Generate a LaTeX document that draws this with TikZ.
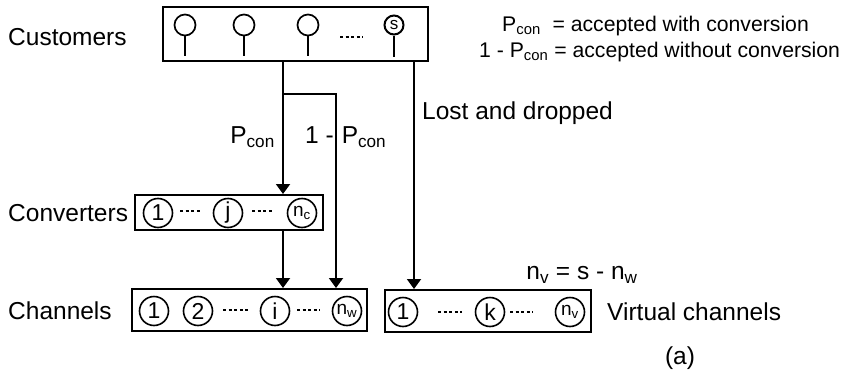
\documentclass[tikz,border=0pt]{standalone}
\usepackage{fontspec}
\setmainfont{Liberation Sans}
\usetikzlibrary{arrows.meta, positioning}

\begin{document}
\begin{tikzpicture}[
  x=1pt, y=-1pt,
  box/.style={draw, line width=2pt, inner sep=0pt},
  unit/.style={draw, circle, line width=1.6pt, minimum size=29pt, inner sep=0pt, font=\fontsize{23}{23}\selectfont},
  pin/.style={draw, circle, line width=1.7pt, minimum size=21pt, inner sep=0pt, font=\fontsize{17}{17}\selectfont},
  lbl/.style={font=\fontsize{24.5}{24.5}\selectfont, inner sep=0pt},
  legend/.style={font=\fontsize{21.2}{21.2}\selectfont, inner sep=0pt},
  gap/.style={line width=2.8pt, dash pattern=on 3pt off 2.6pt},
  arr/.style={-{Triangle[length=10pt, width=14pt]}, line width=1.9pt},
]

\useasboundingbox (0,0) rectangle (846,375);

% ボックス
\node[box, minimum width=265pt, minimum height=54pt] (cust) at (295.5,34) {};
\node[box, minimum width=188pt, minimum height=35pt] (conv) at (229,212.5) {};
\node[box, minimum width=235pt, minimum height=42pt] (chan) at (249.5,310) {};
\node[box, minimum width=206pt, minimum height=42pt] (virt) at (488,311) {};

% 顧客
\foreach \x [count=\i] in {185,244,308} {
  \node[pin] (c\i) at (\x,25) {};
  \draw[line width=1.7pt] (c\i.south) -- ++(0,20);
}
\node[pin, minimum size=19pt, line width=2pt] (cs) at (394,25) {s};
\draw[line width=1.7pt] (cs.south) -- ++(0,21);
\draw[gap] (340,37) -- (363,37);

% 変換器
\node[unit] (v1) at (158,213) {1};
\node[unit] (vj) at (228,213) {j};
\node[unit, font=\fontsize{19}{19}\selectfont] (vn) at (302,213) {n\textsubscript{c}};
\draw[gap] (180,211) -- (200,211);
\draw[gap] (252,211) -- (272,211);

% チャネル
\node[unit] (w1) at (154,311) {1};
\node[unit] (w2) at (198,311) {2};
\node[unit] (wi) at (275,311) {i};
\node[unit, font=\fontsize{19}{19}\selectfont] (wn) at (347,311) {n\textsubscript{w}};
\draw[gap] (223,310) -- (248,310);
\draw[gap] (297,310) -- (320,310);

% 仮想チャネル
\node[unit] (k1) at (403,312) {1};
\node[unit] (kk) at (490,312) {k};
\node[unit, font=\fontsize{19}{19}\selectfont] (kn) at (570,312) {n\textsubscript{v}};
\draw[gap] (438,312) -- (462,312);
\draw[gap] (510,312) -- (533,312);

% エッジ
\coordinate (split) at (283,94);
\coordinate (turn) at (336,94);
\coordinate (drop) at (414,0);
\draw[arr] (cust.south -| split) -- (conv.north -| split);
\draw[arr] (split) -- (turn) -- (chan.north -| turn);
\draw[arr] (conv.south -| split) -- (chan.north -| split);
\draw[arr] (cust.south -| drop) -- (virt.north -| drop);

% ラベル
\node[lbl, anchor=west] (lcust) at (8,37) {Customers};
\node[lbl, anchor=west] (lconv) at (8,213) {Converters};
\node[lbl, anchor=west] (lchan) at (8,311) {Channels};
\node[lbl, anchor=west] (lvirt) at (607,312) {Virtual channels};
\node[lbl, anchor=east] (pcon) at (275,137) {P\textsubscript{con}};
\node[lbl, anchor=west] (qcon) at (305,137) {1 -\hspace{8pt}P\textsubscript{con}};
\node[lbl, anchor=west] (lost) at (422,113) {Lost and dropped};
\node[lbl] (nv) at (582,275) {n\textsubscript{v} = s - n\textsubscript{w}};
\node[lbl] (tag) at (680,358) {(a)};
\node[legend, anchor=base west] (leg1) at (502,31) {P\textsubscript{con}\ \ = accepted with conversion};
\node[legend, anchor=base west] (leg2) at (479,57) {1 - P\textsubscript{con} = accepted without conversion};

\end{tikzpicture}
\end{document}
